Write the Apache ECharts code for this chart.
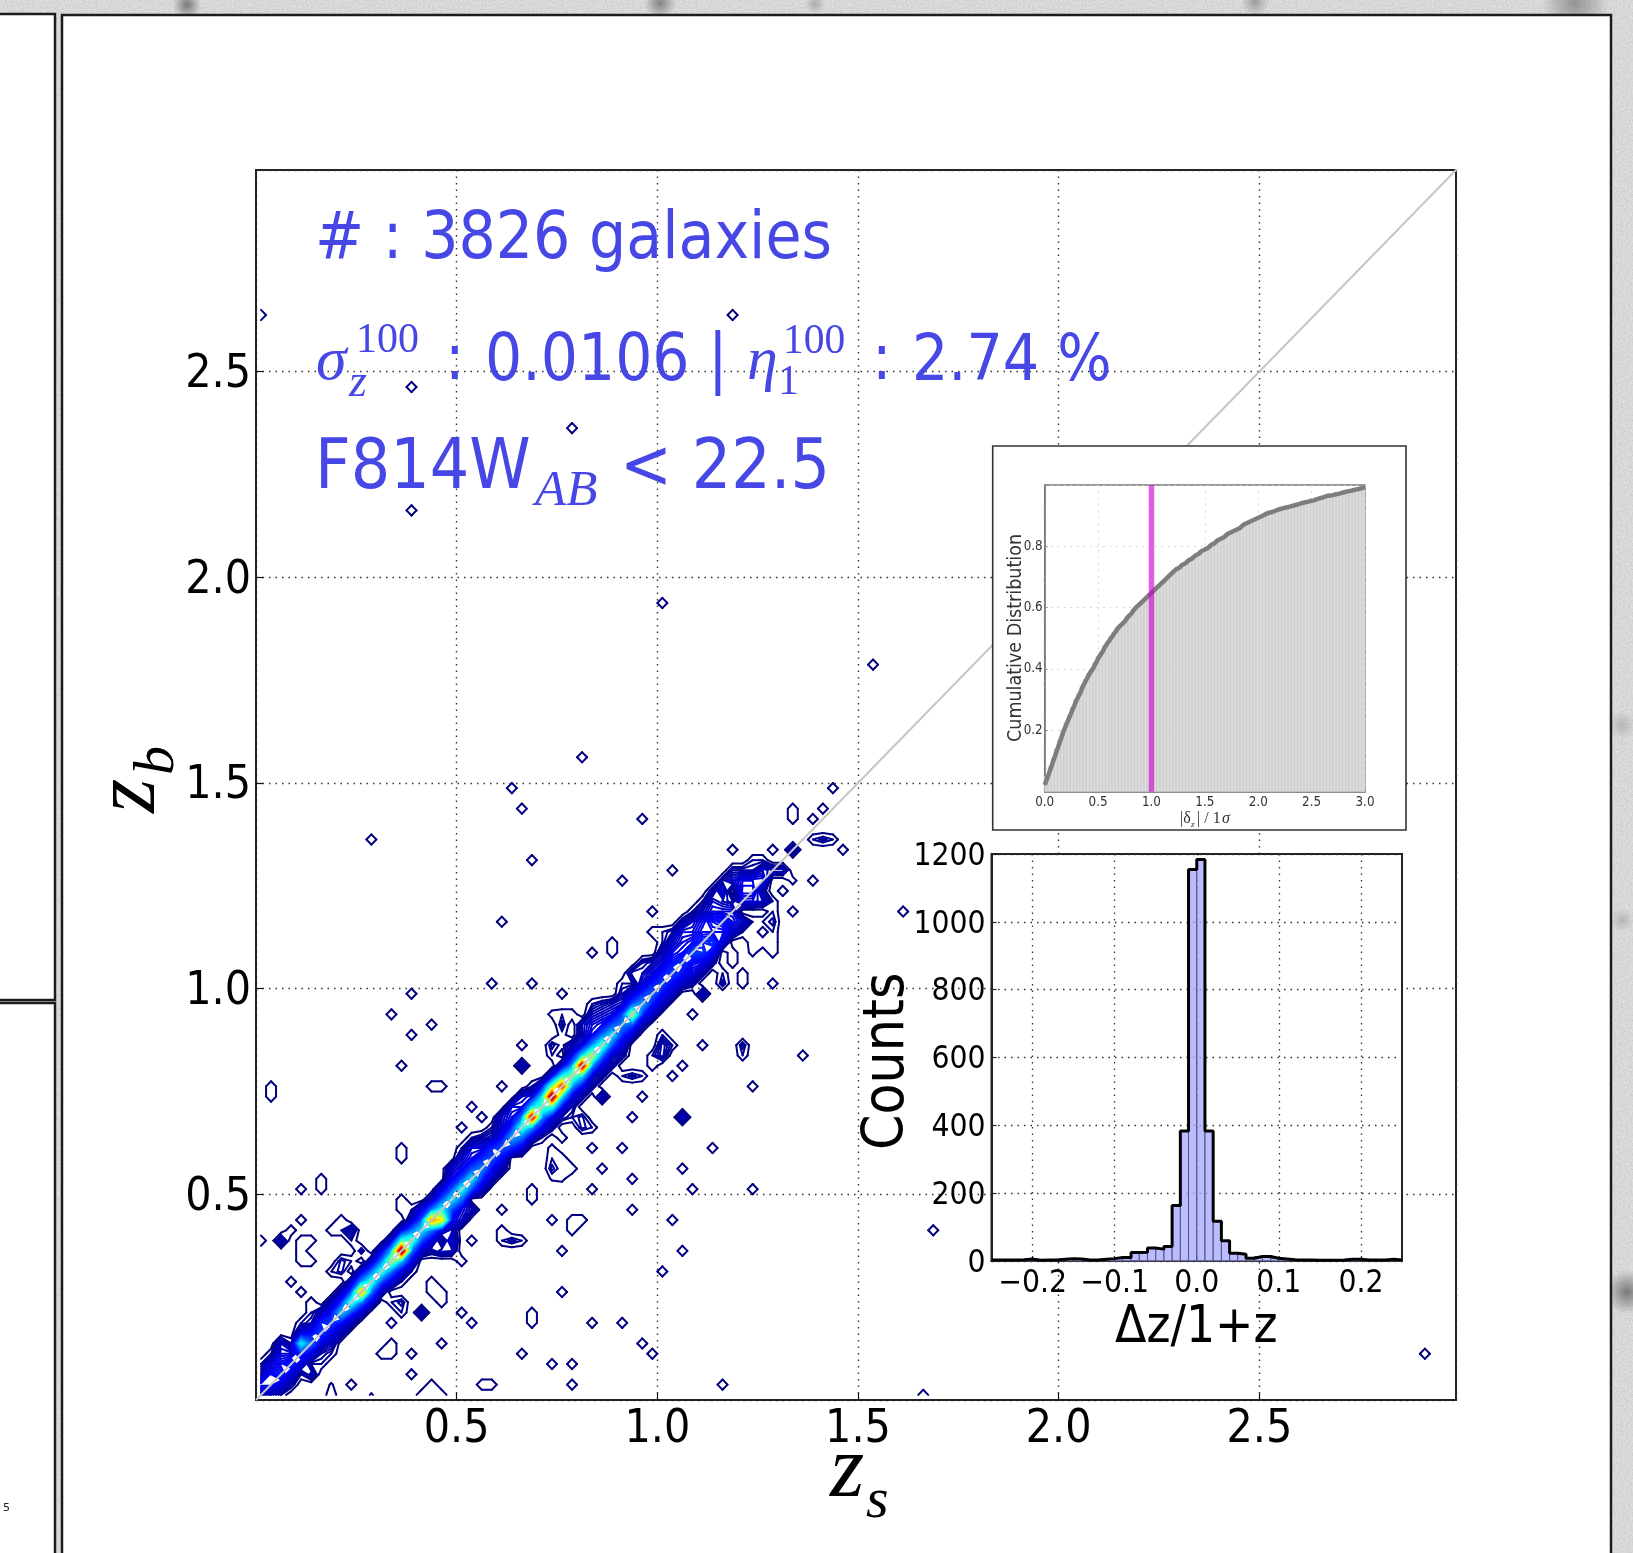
<!DOCTYPE html>
<html><head><meta charset="utf-8">
<style>
html,body{margin:0;padding:0;width:1633px;height:1553px;overflow:hidden;background-color:#dedede;}
body{background-image:
radial-gradient(circle at 187px 5px,rgba(110,110,110,.9),rgba(110,110,110,0) 14px),
radial-gradient(circle at 660px 3px,rgba(110,110,110,.8),rgba(110,110,110,0) 16px),
radial-gradient(circle at 815px 4px,rgba(140,140,140,.6),rgba(140,140,140,0) 10px),
radial-gradient(circle at 1255px 2px,rgba(130,130,130,.7),rgba(130,130,130,0) 14px),
radial-gradient(circle at 1575px 3px,rgba(130,130,130,.8),rgba(130,130,130,0) 34px),
radial-gradient(circle at 1627px 1292px,rgba(110,110,110,.9),rgba(110,110,110,0) 22px),
radial-gradient(circle at 1622px 725px,rgba(160,160,160,.6),rgba(160,160,160,0) 14px),
radial-gradient(circle at 1622px 920px,rgba(160,160,160,.6),rgba(160,160,160,0) 12px),
url("data:image/svg+xml,%3Csvg xmlns='http://www.w3.org/2000/svg' width='300' height='300'%3E%3Cfilter id='n'%3E%3CfeTurbulence type='fractalNoise' baseFrequency='.55' numOctaves='2' seed='4'/%3E%3CfeColorMatrix values='0 0 0 0 .55 0 0 0 0 .55 0 0 0 0 .55 1.6 0 0 0 -.55'/%3E%3C/filter%3E%3Crect width='300' height='300' filter='url(%23n)'/%3E%3C/svg%3E");}
#c{width:1633px;height:1553px;filter:blur(.6px);}
</style>
<script src="https://cdn.jsdelivr.net/npm/echarts@6/dist/echarts.min.js"></script>
</head><body><div id="c"></div>
<script>
// ---------- main panel: 2-D histogram of z_s / z_b (bins of 0.025)
const binSize = 0.025, gridCells = 120;
const mainTicks = [0.5, 1.0, 1.5, 2.0, 2.5];
const diagonalLine = [[0, 0], [3, 3]];
// counts along the ridge: one row per z_s bin, offsets (z_b bin - z_s bin) -4 ... +4
const ridgeRows = [
[0,0,0,0,2,4,2,1,0],[0,0,0,2,4,4,3,1,0],[0,0,1,3,5,4,3,2.5,0],[0,0,1.5,3,5,3,1,0,0],
[0,0,1,3,5,11,3,1,0],[0,0,1,3,7,4,1.5,0,0],[0,0,1.5,3,6,5,2,0,0],[0,1,2,3.5,6,4,2,0,0],
[0,0,2,4,10,5,2,0,0],[0,0,2,5.5,13,6,2,0,0],[0,0,2.5,7,21,8,2.5,0,0],[0,0,3,7,13,7,2,0,0],
[0,0,2,6,13,7,3,0,0],[0,0,3,7,16,9,2.5,0,0],[0,1,3,9,30,12,3,0,0],[0,1,3.5,7,14,7,2,1,0],
[0,0,2.5,6,11,6,3.5,0,0],[0,1.5,3,7,22,7,2,0,0],[0,1,3,19,12,6,3,0,0],[0,2,3.5,6,11,6,3.5,2.5,0],
[0,2.5,3,7,12,6,3.5,2.5,1],[0,2,0,6,11,6,3.5,3,1],[0,0,2.5,5,8,5,3,1.5,0],[0,0,2,4,6.5,5,2,0,0],
[0,0,2,4,6.5,4,2.5,2.5,0],[0,0,0,5,9,5,3.5,3,0],[0,0,3,7,13,7,3,2.5,0],[0,0,2.5,8,27,10,3,1,0],
[0,1,3.5,8,14,10,3.5,0,0],[0,1.5,3,12,30,14,3,0,0],[0,1.5,3.5,10,25,11,2.5,0,0],[0,1.5,3,8,15,8,3.5,2,0],
[0,1.5,3.5,10,28,10,3,2,0],[0,1.5,2.5,8,17,8,3.5,3,1.5],[0,1.5,3,7,14,7,3.5,2.5,1.5],[0,1.5,2.5,6,11,6,3,2,0],
[0,1.5,3,5,8,5.5,2.5,1.5,0],[0,0,2.5,6,16,6,3,0,2],[0,0,2,5,9,5,2.5,2,1.5],[0,0,2.5,4.5,7,4.5,3,2,0],
[0,0,2.5,4,6,4.5,3,2,1],[0,0,2.5,4,6,4.5,3.5,2.5,1.5],[0,0,2.5,4.5,5.5,4,3.5,3,1.5],[0,1.5,3,4,6,4,3,2.5,1],
[0,1.5,3.5,5.5,5,4,3.5,2,1],[0,1.5,4,5.5,4,4.5,3,2.5,1.5],[0,0,3,4,5,3,2,3,1.5],[1,0,2.5,3.5,3,1.5,0,2.5,1.5],
[0,1,2.5,0,3,4,3.5,1.5,0],[1,1,0,3,4,3.5,1.5,0,0],[1,0,2.5,1.5,3.5,2.5,1,0,0]
];
// isolated bins holding one count
const singleCells = [
[39,47],[24,46],[53,47],[33,43],[35,43],[35,44],[51,48],[51,47],[51,45],[51,44],[51,43],
[23,40],[27,40],[30,39],[15,39],[13,37],[17,36],[15,35],[31,37],[43,37],[38,42],[51,40],
[48,40],[48,41],[26,34],[44,34],[54,33],[14,32],[42,32],[41,31],[1,29],[1,30],[17,30],[18,30],
[24,30],[49,30],[38,29],[21,28],[22,27],[37,27],[14,23],[14,24],[30,25],[33,24],[36,24],[45,24],
[31,22],[34,22],[42,22],[37,21],[33,20],[43,20],[49,20],[4,20],[6,20],[6,21],[14,18],[14,19],
[27,19],[27,20],[37,18],[24,18],[4,17],[29,17],[31,17],[32,17],[31,16],[41,17],[7,16],[21,15],
[0,15],[3,16],[4,15],[5,15],[4,14],[4,13],[5,13],[30,14],[42,14],[20,13],[40,12],[17,11],[17,10],
[18,10],[18,9],[3,11],[4,10],[30,10],[5,9],[5,8],[20,8],[21,7],[27,7],[27,8],[33,7],[36,7],[13,7],
[18,5],[38,5],[13,5],[13,4],[12,4],[26,4],[15,4],[39,4],[29,3],[31,3],[15,2],[17,1],[18,0],[17,0],
[16,0],[22,1],[23,1],[31,1],[46,1],[9,1],[7,0],[66,0],[8,17],[8,16],[9,15],
[47,53],[49,52],[51,53],[58,53],[55,50],[53,47],[55,56],[53,56],[53,57],[56,57],[47,43],[47,42],
[48,40],[51,40],[39,45],[40,45],[36,40],[37,40],[37,41],[20,26],[21,25],[22,25],[23,25],[23,26],
[0,105],[47,105],[15,98],[31,94],[15,86],[40,77],[61,71],[32,62],[25,59],[26,57],[11,54],[57,59],
[56,57],[38,56],[27,52],[36,50],[41,51],[64,47],[67,16],[116,4]
];
// bins holding more than one count (outer rings and filled diamonds)
const strongCells = [
[51,46,1.4],[46,40,1.4],[46,41,1],[44,39,2.2],[48,34,1.4],[48,33,1],[26,32,2.2],[42,27,2.4],[34,29,2.2],
[9,16,2],[2,15,2.2],[24,15,1],[25,15,1.4],[26,15,1],[24,16,1],[10,14,1.4],[18,14,2.2],[19,15,3],[19,14,2],
[8,12,1.4],[8,13,1.4],[7,12,1],[9,13,1],[14,9,1.4],[13,9,1],[14,8,1],[16,8,2.2],[5,2,2.2],[6,3,1],[7,1,0.6],[11,0,0.6],
[53,53,2.2],[56,54,1.4],[55,54,1],[57,54,1],[51,51,2],[52,51,2],[53,50,0.8],[52,49,1],[50,50,3],
[50,44,1],[49,44,1],[49,43,0.8],
[29,22,1.4],[29,23,1],[29,24,0.8],[30,23,1],[30,22,0.7],[30,21,0.7],[29,21,0.6],[32,27,1.4],[32,26,1.4],[31,27,1],[33,26,1],
[37,31,1.4],[36,31,1],[38,31,1],[35,32,1],[39,32,1],[40,33,2],[40,34,2],[39,33,1],[40,35,1],[41,34,1],
[30,36,1.4],[30,37,1],[29,37,0.8],[31,37,1],[29,34,1.4],[29,33,1],[30,34,0.8],[30,35,0.8],[26,29,2.4],[27,28,1],
[25,27,3],[26,27,3],[34,37,2],[33,36,3],[33,37,2],[32,36,2],[35,38,2],[33,38,1],[34,38,1],[36,38,1]
];
// ---------- inset: cumulative distribution of |delta_z| / 1 sigma (100 bins of 0.03)
const cdfBinWidth = 0.03, cdfStart = 0.022;
const cdfValues = [.05,.08,.11,.14,.17,.20,.225,.25,.275,.30,.32,.345,.365,.385,.40,.42,.44,.455,.475,.49,
.505,.52,.535,.545,.555,.57,.58,.595,.605,.615,.625,.635,.645,.655,.665,.675,.685,.695,.705,.715,
.725,.73,.74,.745,.755,.76,.77,.775,.785,.79,.795,.805,.81,.82,.825,.83,.84,.845,.85,.855,
.86,.87,.875,.88,.885,.89,.895,.90,.905,.91,.912,.916,.92,.923,.926,.928,.931,.934,.937,.94,
.943,.945,.948,.95,.954,.957,.96,.964,.966,.967,.97,.972,.975,.978,.98,.982,.985,.987,.99,.993];
const sigmaMark = [[1, 0], [1, 1]];
// ---------- inset: histogram of dz/1+z (50 bins of 0.01 starting at -0.25)
const histStart = -0.25, histBinWidth = 0.01;
const histCounts = [3,3,3,4,6,2,3,3,5,7,6,3,3,5,7,10,10,25,26,38,35,43,164,383,1154,1184,383,117,60,23,20,8,13,13,8,6,4,3,3,2,2,2,3,5,5,3,3,3,5,3];
const histTicks = [-0.2, -0.1, 0, 0.1, 0.2];

// ---------- contour construction (marching squares through the axis scale)
const grid = [];
for (let i = 0; i < gridCells; i++) grid.push(new Float32Array(gridCells));
function put(i, j, v) { if (i >= 0 && j >= 0 && i < gridCells && j < gridCells && grid[i][j] < v) grid[i][j] = v; }
ridgeRows.forEach((row, i) => row.forEach((v, k) => put(i, i + k - 4, v)));
singleCells.forEach(c => put(c[0], c[1], 1));
strongCells.forEach(c => put(c[0], c[1], c[2]));
const levelBottom = 0.5, levelTop = 30;
const levels = [[levelBottom + 0.003]];
for (let l = 1; l < levelTop; l += (l < 8 ? 0.25 : 0.5)) levels.push([l + 0.003]);
function jet(t) {
  const c = x => Math.round(255 * Math.max(0, Math.min(1, x)));
  const r = 1.5 - Math.abs(4 * t - 3), g = 1.5 - Math.abs(4 * t - 2), b = 1.5 - Math.abs(4 * t - 1);
  return 'rgb(' + c(r) + ',' + c(g) + ',' + c(b) + ')';
}
function segments(level) {
  const out = [], ctr = k => (k + 0.5) * binSize;
  for (let i = 0; i < gridCells - 1; i++) for (let j = 0; j < gridCells - 1; j++) {
    const a = grid[i][j], b = grid[i + 1][j], c = grid[i + 1][j + 1], d = grid[i][j + 1];
    const code = (a > level ? 1 : 0) | (b > level ? 2 : 0) | (c > level ? 4 : 0) | (d > level ? 8 : 0);
    if (code === 0 || code === 15) continue;
    const B = [ctr(i) + binSize * (level - a) / (b - a), ctr(j)],
          R = [ctr(i + 1), ctr(j) + binSize * (level - b) / (c - b)],
          T = [ctr(i) + binSize * (level - d) / (c - d), ctr(j + 1)],
          L = [ctr(i), ctr(j) + binSize * (level - a) / (d - a)];
    const mid = (a + b + c + d) / 4;
    switch (code) {
      case 1: case 14: out.push([L, B]); break;
      case 2: case 13: out.push([B, R]); break;
      case 3: case 12: out.push([L, R]); break;
      case 4: case 11: out.push([R, T]); break;
      case 6: case 9: out.push([B, T]); break;
      case 7: case 8: out.push([L, T]); break;
      case 5: if (mid > level) { out.push([L, T], [B, R]); } else { out.push([L, B], [R, T]); } break;
      case 10: if (mid > level) { out.push([L, B], [R, T]); } else { out.push([L, T], [B, R]); } break;
    }
  }
  return out;
}
function renderContour(params, api) {
  const level = api.value(0), colour = jet((level - levelBottom) / (levelTop - levelBottom));
  return {
    type: 'group',
    children: segments(level).map(s => {
      const p = api.coord(s[0]), q = api.coord(s[1]);
      return { type: 'line', shape: { x1: p[0], y1: p[1], x2: q[0], y2: q[1] },
        style: { stroke: colour, lineWidth: 2, lineCap: 'round', fill: null } };
    })
  };
}
function renderCdfBar(params, api) {
  const k = api.value(0), p = api.coord([k * cdfBinWidth, api.value(1)]), q = api.coord([(k + 1) * cdfBinWidth, 0]);
  return { type: 'rect', shape: { x: p[0], y: p[1], width: q[0] - p[0], height: q[1] - p[1] },
    style: { fill: '#dcdcdc', stroke: '#c2c2c2', lineWidth: 0.6 } };
}
function renderHistBar(params, api) {
  const k = api.value(0), x0 = histStart + k * histBinWidth;
  const p = api.coord([x0, api.value(1)]), q = api.coord([x0 + histBinWidth, 0]);
  return { type: 'rect', shape: { x: p[0], y: p[1], width: q[0] - p[0], height: q[1] - p[1] },
    style: { fill: 'rgba(170,170,255,.8)', stroke: '#55557a', lineWidth: 1 } };
}
const SANS = '"DejaVu Sans Condensed","DejaVu Sans",sans-serif', SERIF = '"Liberation Serif",serif', BLUE = '#4747e6';
const dots = [1.5, 5];
// x, y are the start of the text's baseline
const txt = (text, x, y, size, fill, font, extra, italic) => {
  const off = 0.775 * size, rotated = extra && extra.rotation;
  return Object.assign({ type: 'text', x: rotated ? x - off : x, y: rotated ? y : y - off, z: 3, silent: true,
    style: { text: text, fill: fill, fontSize: size, fontFamily: font, fontStyle: italic ? 'italic' : 'normal' } }, extra || {});
};
const frame = (x, y, w, h, z, lw, col, fill) => ({ type: 'rect', z: z, silent: true, shape: { x: x, y: y, width: w, height: h },
  style: { fill: fill || '#fff', stroke: col, lineWidth: lw } });

const stepData = histCounts.map((v, k) => [histStart + k * histBinWidth, v]).concat([[histStart + histCounts.length * histBinWidth, histCounts[histCounts.length - 1]]]);
const cdfLine = [[0, cdfStart]].concat(cdfValues.map((v, k) => [(k + 1) * cdfBinWidth, v]));

const option = {
  backgroundColor: 'transparent', animation: false,
  grid: [
    { left: 256, top: 170, width: 1200, height: 1230, show: true, borderColor: '#222', borderWidth: 2, backgroundColor: 'transparent', z: 0 },
    { left: 1044.7, top: 485, width: 320.3, height: 306.7, show: true, borderColor: '#777', borderWidth: 1.5, backgroundColor: '#fff', z: 4 },
    { left: 991.5, top: 854, width: 410.5, height: 407, show: true, borderColor: '#222', borderWidth: 2, backgroundColor: '#fff', z: 4 }
  ],
  xAxis: [
    { gridIndex: 0, type: 'value', min: 0, max: 2.99, interval: 0.5, axisLine: { onZero: false, lineStyle: { color: '#222', width: 2 } },
      axisTick: { inside: true, length: 7, lineStyle: { color: '#111', width: 1.2 } }, 
      axisLabel: { fontFamily: SANS, fontSize: 46, color: '#000', margin: 7, showMinLabel: false, showMaxLabel: false, formatter: v => mainTicks.indexOf(v) >= 0 ? v.toFixed(1) : '' },
      splitLine: { show: true, lineStyle: { color: '#333', width: 1.4, type: dots } } },
    { gridIndex: 1, type: 'value', min: 0, max: 3, interval: 0.5, z: 4, axisLine: { onZero: false, lineStyle: { color: '#777', width: 1.5 } },
      axisTick: { inside: true, length: 3, lineStyle: { color: '#888' } },
      axisLabel: { fontFamily: SANS, fontSize: 13.3, color: '#333', margin: 4, formatter: v => v.toFixed(1) },
      splitLine: { show: true, lineStyle: { color: '#ccc', width: 1, type: dots } } },
    { gridIndex: 2, type: 'value', min: histStart, max: 0.25, z: 4, axisLine: { onZero: false, lineStyle: { color: '#222', width: 2 } },
      axisTick: { inside: true, length: 5, lineStyle: { color: '#222', width: 1.2 }, customValues: histTicks },
      axisLabel: { fontFamily: SANS, fontSize: 31.5, color: '#000', margin: 7, customValues: histTicks,
        formatter: v => v === 0 ? '0.0' : (v < 0 ? '\u2212' : '') + Math.abs(v).toFixed(1) },
      splitLine: { show: true, lineStyle: { color: '#333', width: 1.3, type: dots } } }
  ],
  yAxis: [
    { gridIndex: 0, type: 'value', min: 0, max: 2.99, interval: 0.5, axisLine: { onZero: false, lineStyle: { color: '#222', width: 2 } },
      axisTick: { inside: true, length: 7, lineStyle: { color: '#111', width: 1.2 } },
      axisLabel: { fontFamily: SANS, fontSize: 46, color: '#000', margin: 5, verticalAlign: 'top', lineHeight: 7, showMinLabel: false, showMaxLabel: false, formatter: v => mainTicks.indexOf(v) >= 0 ? v.toFixed(1) : '' },
      splitLine: { show: true, lineStyle: { color: '#333', width: 1.4, type: dots } } },
    { gridIndex: 1, type: 'value', min: 0, max: 1, interval: 0.2, z: 4, axisLine: { onZero: false, lineStyle: { color: '#777', width: 1.5 } },
      axisTick: { inside: true, length: 3, lineStyle: { color: '#888' } },
      axisLabel: { fontFamily: SANS, fontSize: 13.3, color: '#333', margin: 2, formatter: v => (v > 0 && v < 1) ? v.toFixed(1) : '' },
      splitLine: { show: true, lineStyle: { color: '#ccc', width: 1, type: dots } } },
    { gridIndex: 2, type: 'value', min: 0, max: 1200, interval: 200, z: 4, axisLine: { onZero: false, lineStyle: { color: '#222', width: 2 } },
      axisTick: { inside: true, length: 5, lineStyle: { color: '#222', width: 1.2 } },
      axisLabel: { fontFamily: SANS, fontSize: 31.5, color: '#000', margin: 6, verticalAlign: 'top', lineHeight: 5, formatter: v => String(v) },
      splitLine: { show: true, lineStyle: { color: '#333', width: 1.3, type: dots } } }
  ],
  series: [
    { type: 'custom', xAxisIndex: 0, yAxisIndex: 0, z: 2, clip: true, silent: true, data: levels, encode: { x: [], y: [] }, renderItem: renderContour },
    { type: 'line', xAxisIndex: 0, yAxisIndex: 0, z: 2, silent: true, data: diagonalLine, showSymbol: false, lineStyle: { color: '#c6c6c6', width: 2 } },
    { type: 'custom', xAxisIndex: 1, yAxisIndex: 1, z: 5, silent: true, data: cdfValues.map((v, k) => [k, v]), encode: { x: [], y: 1 }, renderItem: renderCdfBar },
    { type: 'line', xAxisIndex: 1, yAxisIndex: 1, z: 6, silent: true, data: cdfLine, showSymbol: false, lineStyle: { color: 'rgba(115,115,115,.9)', width: 4.5 } },
    { type: 'line', xAxisIndex: 1, yAxisIndex: 1, z: 7, silent: true, data: sigmaMark, showSymbol: false, lineStyle: { color: 'rgba(205,0,205,.62)', width: 5.5 } },
    { type: 'custom', xAxisIndex: 2, yAxisIndex: 2, z: 5, silent: true, data: histCounts.map((v, k) => [k, v]), encode: { x: [], y: 1 }, renderItem: renderHistBar },
    { type: 'line', xAxisIndex: 2, yAxisIndex: 2, z: 6, silent: true, step: 'end', data: stepData, showSymbol: false, lineStyle: { color: '#000', width: 3 } }
  ],
  graphic: { elements: [
    frame(-5, 14, 60, 986, -10, 2.5, '#1c1c1c'),
    frame(-5, 1003, 60, 600, -10, 2.5, '#1c1c1c'),
    frame(62, 15, 1549, 1600, -10, 2.5, '#1c1c1c'),
    frame(992.7, 446, 413.3, 384, 3, 1.6, '#333'),
    txt('5', 3, 1511, 11, '#222', 'DejaVu Sans'),
    txt('# : 3826 galaxies', 315, 259, 65.2, BLUE, SANS),
    txt('\u03c3', 316, 380, 62, BLUE, SERIF, null, true),
    txt('z', 349, 397, 46, BLUE, SERIF, null, true),
    txt('100', 356, 353, 42, BLUE, SERIF),
    txt(':', 445, 380, 64.6, BLUE, SANS),
    txt('0.0106 |', 485, 381, 65, BLUE, SANS),
    txt('\u03b7', 747, 380, 62, BLUE, SERIF, null, true),
    txt('1', 778, 395, 42, BLUE, SERIF),
    txt('100', 783, 353, 41.5, BLUE, SERIF),
    txt(':', 872, 380, 64.6, BLUE, SANS),
    txt('2.74 %', 912, 381, 63.5, BLUE, SANS),
    txt('F814W', 315, 489, 69, BLUE, SANS),
    txt('AB', 535, 506, 51, BLUE, SERIF, null, true),
    txt('< 22.5', 620, 489, 69, BLUE, SANS),
    txt('z', 830, 1497, 88, '#000', SERIF, null, true),
    txt('s', 866, 1518, 58, '#000', SERIF, null, true),
    txt('z', 155, 813, 88, '#000', SERIF, { rotation: Math.PI / 2 }, true),
    txt('b', 174, 775, 58, '#000', SERIF, { rotation: Math.PI / 2 }, true),
    txt('Counts', 904, 1150, 56.5, '#000', SANS, { rotation: Math.PI / 2 }),
    txt('\u0394z/1+z', 1115, 1343, 51, '#000', SANS),
    txt('Cumulative Distribution', 1021, 742, 19.5, '#333', SANS, { z: 8, rotation: Math.PI / 2 }),
    txt('|\u03b4', 1180, 823, 16, '#333', SERIF, { z: 8 }),
    txt('z', 1191, 827, 9, '#333', SERIF, { z: 8 }, true),
    txt('| / 1', 1197, 823, 16, '#333', SERIF, { z: 8 }),
    txt('\u03c3', 1222, 823, 16, '#333', SERIF, { z: 8 }, true)
  ] }
};
const chart = echarts.init(document.getElementById('c'), null, { renderer: 'canvas' });
chart.setOption(option);
</script></body></html>
